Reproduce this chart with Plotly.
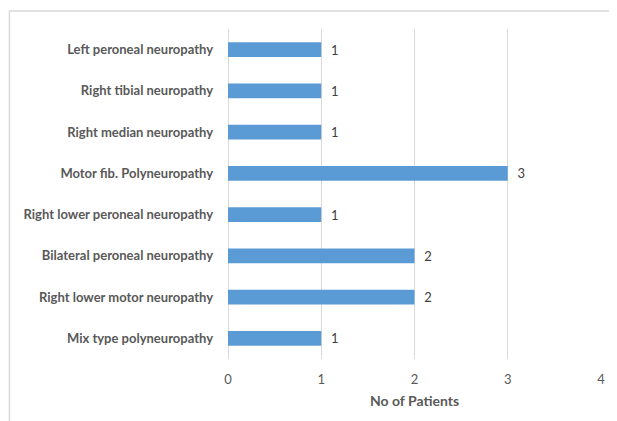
import plotly.graph_objects as go

categories = [
    "Left peroneal neuropathy",
    "Right tibial neuropathy",
    "Right median neuropathy",
    "Motor fib. Polyneuropathy",
    "Right lower peroneal neuropathy",
    "Bilateral peroneal neuropathy",
    "Right lower motor neuropathy",
    "Mix type polyneuropathy",
]
patients = [1, 1, 1, 3, 1, 2, 2, 1]
x_ticks = [0, 1, 2, 3, 4]
x_title = "No of Patients"

fig = go.Figure(
    go.Bar(
        x=patients,
        y=categories,
        orientation="h",
        marker=dict(color="#5B9BD5", line=dict(width=0)),
        texttemplate="  %{x}",
        textposition="outside",
        constraintext="none",
        textfont=dict(family="Lato, Open Sans, sans-serif", size=13, color="#404040"),
        cliponaxis=False,
    )
)

# page body has an 8px default margin, so the figure is sized/offset to compensate
fig.update_layout(
    width=609,
    height=413,
    margin=dict(l=220, r=16, t=21, b=62),
    paper_bgcolor="white",
    plot_bgcolor="white",
    bargap=0.64,
    showlegend=False,
    font=dict(family="Lato, Open Sans, sans-serif", color="#595959"),
    xaxis=dict(
        range=[0, 4],
        tickvals=x_ticks,
        showgrid=True,
        gridcolor="#D9D9D9",
        gridwidth=1,
        zeroline=True,
        zerolinecolor="#D9D9D9",
        zerolinewidth=1,
        showline=False,
        tickfont=dict(size=13, color="#595959"),
        ticklabelstandoff=11,
        title=dict(text="<b>" + x_title + "</b>", font=dict(size=14, color="#595959"), standoff=10),
    ),
    yaxis=dict(
        autorange="reversed",
        showgrid=False,
        zeroline=False,
        showline=False,
        tickfont=dict(size=13, color="#595959", weight="bold"),
        ticklabelstandoff=14,
    ),
    shapes=[
        dict(
            type="rect",
            xref="paper",
            yref="paper",
            x0=-0.586,
            x1=1.2,
            y0=-0.3,
            y1=1.0545,
            line=dict(color="#D9D9D9", width=1.5),
            fillcolor="rgba(0,0,0,0)",
            layer="below",
        )
    ],
)

fig.write_html("out.html")
